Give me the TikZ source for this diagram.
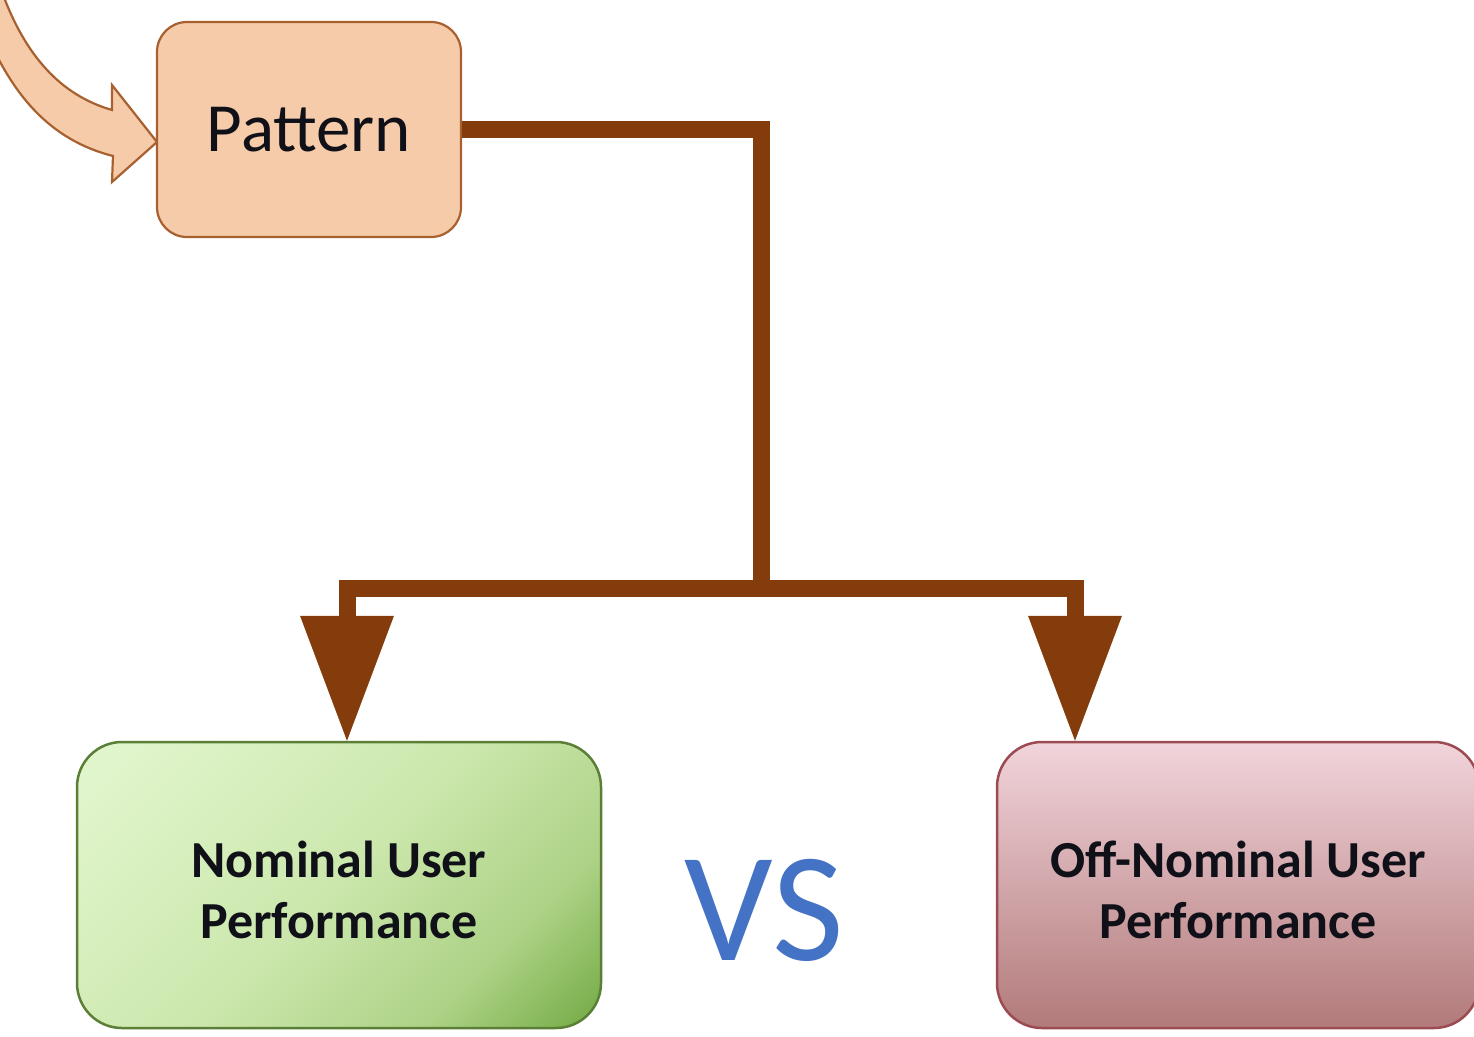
\documentclass[tikz,border=0pt]{standalone}
\usepackage{fontspec}
\setmainfont{Carlito}
\usetikzlibrary{arrows.meta,calc}
\definecolor{peach}{HTML}{F6CBAA}
\definecolor{peachline}{HTML}{A8602E}
\definecolor{conncol}{HTML}{843C0C}
\definecolor{gA}{HTML}{E0F5CB}
\definecolor{gB}{HTML}{CBE7AC}
\definecolor{gC}{HTML}{ADD286}
\definecolor{gD}{HTML}{70A840}
\definecolor{gline}{HTML}{5B7F36}
\definecolor{rA}{HTML}{F1D4DB}
\definecolor{rB}{HTML}{B27A7A}
\definecolor{rline}{HTML}{9C4B52}
\definecolor{vsblue}{HTML}{4472C4}
\definecolor{txt}{HTML}{101018}
\pgfdeclarehorizontalshading{greenfade}{100bp}{color(0bp)=(gA); color(20bp)=(gA); color(50bp)=(gB); color(70bp)=(gC); color(86bp)=(gD); color(100bp)=(gD)}
\tikzset{
  patbox/.style={rectangle, rounded corners=30pt, minimum width=304pt, minimum height=215pt,
    fill=peach, draw=peachline, line width=2.2pt, inner sep=0pt, text=txt,
    font=\fontsize{69}{82}\selectfont},
  boxtext/.style={inner sep=0pt, align=center, text=txt, yshift=-5pt,
    font=\fontsize{52}{61}\selectfont\bfseries},
  greenbox/.style={rectangle, rounded corners=45pt, minimum width=524pt, minimum height=286pt,
    shade, shading=greenfade, shading angle=-45, draw=gline, line width=2.5pt, inner sep=0pt},
  redbox/.style={rectangle, rounded corners=45pt, minimum width=482pt, minimum height=286pt,
    top color=rA, bottom color=rB, draw=rline, line width=2.5pt, inner sep=0pt},
  vslabel/.style={inner sep=0pt, text=vsblue, font=\fontsize{156}{156}\selectfont},
  conn/.style={draw=conncol, line width=17pt, line join=miter},
  bigtip/.style={-{Triangle[length=125pt, width=94pt, line width=0pt]}},
  blockarrow/.style={fill=peach, draw=peachline, line width=2.2pt, line join=miter},
}
\begin{document}
\begin{tikzpicture}[x=1pt, y=-1pt]
\useasboundingbox (0,0) rectangle (1474,1036);
\begin{scope}
\clip (0,0) rectangle (1474,1036);
\filldraw[blockarrow] (2,-8) .. controls (25,55) and (60,95) .. (112,110) -- (112,85) -- (157,142)
  -- (112,182) -- (113,156) .. controls (50,140) and (12,95) .. (-15,30) -- cycle;
\end{scope}
\node[patbox] (pat) at (309,129.5) {Pattern};
\node[greenbox, label={[boxtext]center:Nominal User\\Performance}] (lb) at (339,885) {};
\node[redbox, label={[boxtext]center:Off-Nominal User\\Performance}] (rb) at (1238,885) {};
\node[vslabel] (vs) at (764,910) {VS};
\coordinate (split) at (761,588);
\draw[conn, bigtip] (pat.east) -- (split |- pat.east) -- (split) -- (347,588) -- (347,0 |- lb.north);
\draw[conn, bigtip] (split) -- (1075,588) -- (1075,0 |- rb.north);
\end{tikzpicture}
\end{document}
